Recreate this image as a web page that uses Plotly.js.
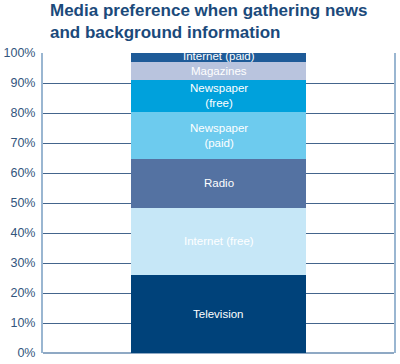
<!DOCTYPE html>
<html>
<head>
<meta charset="utf-8">
<script src="https://cdn.plot.ly/plotly-3.0.1.min.js"></script>
<style>html,body{margin:0;padding:0;background:#fff;}#chart{width:400px;height:364px;}</style>
</head>
<body>
<div id="chart"></div>
<script>
const categories = ["Media"];
const seriesNames = ["Television", "Internet (free)", "Radio", "Newspaper (paid)", "Newspaper (free)", "Magazines", "Internet (paid)"];
const seriesLabels = ["Television", "Internet (free)", "Radio", "Newspaper<br>(paid)", "Newspaper<br>(free)", "Magazines", "Internet (paid)"];
const seriesValues = [26, 22.5, 16.2, 15.7, 10.6, 6.1, 2.9];
const seriesColors = ["#00427a", "#c6e7f7", "#5472a2", "#6dcbee", "#00a1dc", "#b9c4de", "#1e5b98"];
const tickVals = [0, 10, 20, 30, 40, 50, 60, 70, 80, 90, 100];
const tickText = tickVals.map(v => v + "%");
const titleText = "Media preference when gathering news<br>and background information";

const traces = seriesNames.map((name, i) => ({
  type: "bar",
  name: name,
  x: categories,
  y: [seriesValues[i]],
  marker: {color: seriesColors[i], line: {width: 0}},
  hoverinfo: "skip"
}));

const annotations = [];
let cum = 0;
seriesValues.forEach((v, i) => {
  const mid = cum + v / 2;
  cum += v;
  annotations.push({
    x: categories[0], y: mid, xref: "x", yref: "y",
    text: seriesLabels[i], showarrow: false,
    font: {family: "Liberation Sans, Arial, sans-serif", size: 11.5, color: "#ffffff"},
    yshift: i === 6 ? 1 : 0
  });
});

annotations.push({
  xref: "paper", yref: "paper", x: 0.014, y: 1.18,
  xanchor: "left", yanchor: "top", align: "left", showarrow: false,
  text: titleText,
  font: {family: "Liberation Sans, Arial, sans-serif", size: 17, weight: "bold", color: "#1b4a7b"}
});

const layout = {
  width: 400, height: 364,
  margin: {l: 43, r: 6, t: 53, b: 11},
  paper_bgcolor: "#ffffff", plot_bgcolor: "#ffffff",
  barmode: "stack",
  bargap: 0.5,
  showlegend: false,
  xaxis: {
    showticklabels: false, showgrid: false, zeroline: false, showline: false,
    fixedrange: true
  },
  yaxis: {
    range: [0, 100], tickvals: tickVals, ticktext: tickText,
    showgrid: true, gridcolor: "#44658c", gridwidth: 1,
    zeroline: true, zerolinecolor: "#8fa9c4", zerolinewidth: 2,
    showline: true, mirror: true, linecolor: "#9ab6d1", linewidth: 2,
    ticks: "", ticklen: 0, ticklabelstandoff: 3,
    tickfont: {family: "Liberation Sans, Arial, sans-serif", size: 12.5, color: "#33557d"},
    fixedrange: true
  },
  annotations: annotations
};

Plotly.newPlot("chart", traces, layout, {staticPlot: true, displayModeBar: false});
</script>
</body>
</html>
